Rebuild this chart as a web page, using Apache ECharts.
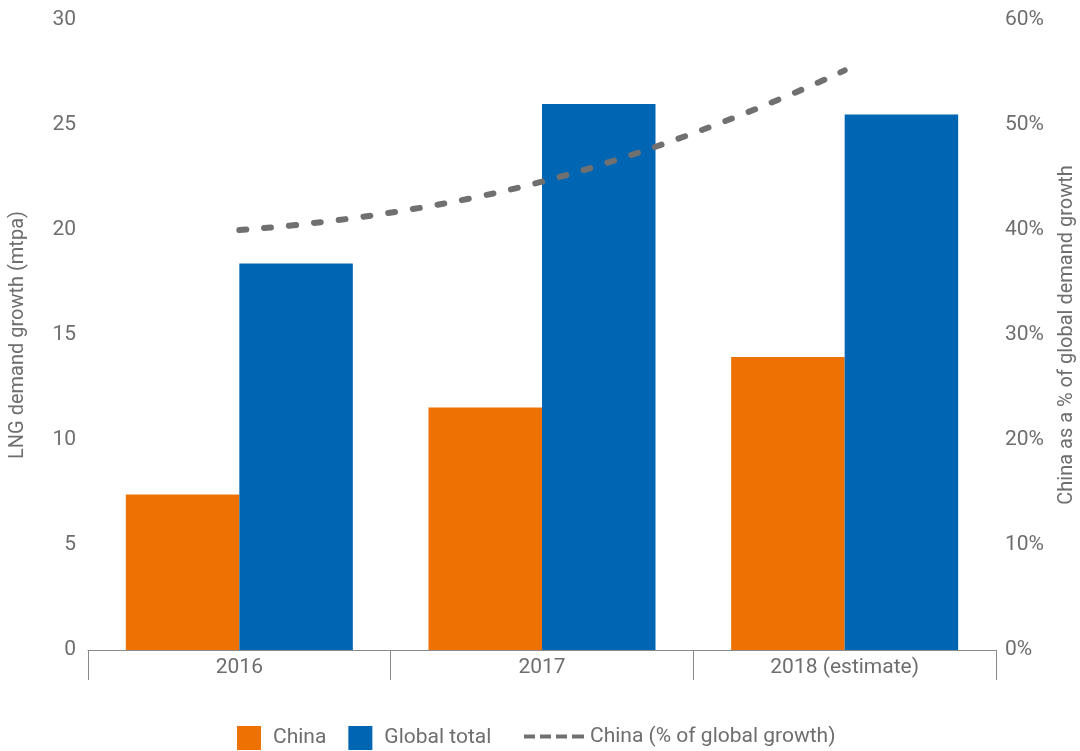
<!DOCTYPE html>
<html>
<head>
<meta charset="utf-8">
<script src="https://cdn.jsdelivr.net/npm/echarts@6/dist/echarts.min.js"></script>
<style>
    html, body { margin: 0; padding: 0; background: #fff; }
    #chart { width: 1080px; height: 751px; }
</style>
</head>
<body>
<div id="chart"></div>
<script>
// 数据
const years = ['2016', '2017', '2018 (estimate)'];
const chinaGrowth = [7.4, 11.55, 13.95];
const globalGrowth = [18.4, 26.0, 25.5];
const chinaShare = [40.0, 44.6, 55.2];

const leftTicks = { min: 0, max: 30, interval: 5 };
const rightTicks = { min: 0, max: 60, interval: 10 };

const textColor = '#6e6e6e';
const axisColor = '#8a8a8a';
const font = 'Roboto, "Noto Sans", sans-serif';

const chart = echarts.init(document.getElementById('chart'));

chart.setOption({
    textStyle: { fontFamily: font },
    grid: { left: 88, right: 84, top: 20, bottom: 101, outerBoundsMode: 'none', containLabel: false },
    legend: [
        {
            data: ['China', 'Global total'],
            left: 232,
            top: 721,
            icon: 'rect',
            itemWidth: 24,
            itemHeight: 24,
            itemGap: 22,
            textStyle: { color: textColor, fontSize: 21, fontFamily: font, padding: [0, 0, 0, 7] }
        },
        {
            data: [{
                name: 'China (% of global growth)',
                icon: 'path://M0,0h11v4h-11z M16,0h11v4h-11z M32,0h11v4h-11z M48,0h12v4h-12z'
            }],
            left: 519,
            top: 721,
            itemWidth: 60,
            itemHeight: 4,
            textStyle: { color: textColor, fontSize: 21, fontFamily: font, padding: [0, 0, 0, 1] }
        }
    ],
    xAxis: {
        type: 'category',
        data: years,
        axisLine: { lineStyle: { color: axisColor, width: 1 } },
        axisTick: { show: true, length: 30, lineStyle: { color: axisColor } },
        axisLabel: { color: textColor, fontSize: 21, margin: 7 }
    },
    yAxis: [
        {
            type: 'value',
            min: leftTicks.min,
            max: leftTicks.max,
            interval: leftTicks.interval,
            name: 'LNG demand growth (mtpa)',
            nameLocation: 'middle',
            nameGap: 60,
            nameTextStyle: { color: textColor, fontSize: 20 },
            axisLine: { show: false },
            axisTick: { show: false },
            splitLine: { show: false },
            axisLabel: { color: textColor, fontSize: 21, margin: 12 }
        },
        {
            type: 'value',
            min: rightTicks.min,
            max: rightTicks.max,
            interval: rightTicks.interval,
            name: 'China as a % of global demand growth',
            nameLocation: 'middle',
            nameGap: 61,
            nameTextStyle: { color: textColor, fontSize: 20 },
            axisLine: { show: false },
            axisTick: { show: false },
            splitLine: { show: false },
            axisLabel: { color: textColor, fontSize: 21, margin: 9, formatter: '{value}%' }
        }
    ],
    series: [
        {
            name: 'China',
            type: 'bar',
            data: chinaGrowth,
            barGap: '0%',
            barCategoryGap: '25%',
            itemStyle: { color: '#ee7203' }
        },
        {
            name: 'Global total',
            type: 'bar',
            data: globalGrowth,
            itemStyle: { color: '#0066b3' }
        },
        {
            name: 'China (% of global growth)',
            type: 'line',
            yAxisIndex: 1,
            data: chinaShare,
            smooth: 0.5,
            symbol: 'none',
            itemStyle: { color: '#707070' },
            lineStyle: { color: '#707070', width: 6, type: [7, 18], cap: 'round' },
            z: 5
        }
    ]
});
</script>
</body>
</html>
